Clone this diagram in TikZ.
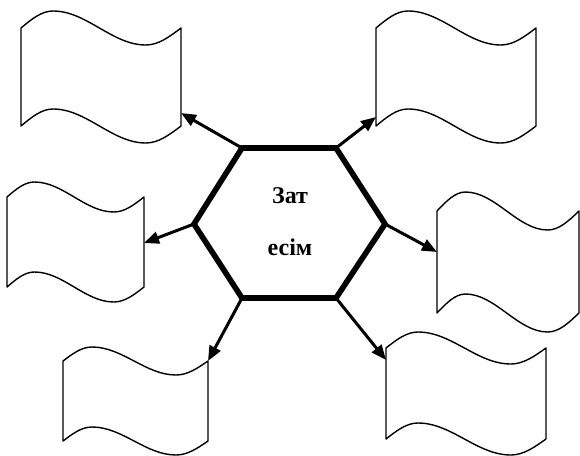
\documentclass[tikz,border=0pt]{standalone}
\usepackage{fontspec}
\setmainfont{Liberation Serif}
\usepackage{tikz}
\usetikzlibrary{positioning,calc,arrows.meta}

\tikzset{
  flagbox/.style={rectangle, inner sep=0pt, outer sep=0pt},
  flagline/.style={line width=1.4pt, line join=round},
  hexline/.style={line width=5.6pt, line join=miter},
  link/.style={-{Triangle[length=15pt,width=12pt]}, line width=3pt},
}

\newcommand{\wavyflag}[6]{%
  \node[flagbox, minimum width=#4pt, minimum height=#5pt, anchor=north west] (#1) at (#2,#3) {};
  \draw[flagline] (#1.north west) sin ++(0.2*#4,-#6) cos ++(0.29*#4,#6) sin ++(0.29*#4,#6) cos ++(0.22*#4,-#6)
    -- (#1.south east) sin ++(-0.22*#4,#6) cos ++(-0.29*#4,-#6) sin ++(-0.29*#4,-#6) cos ++(-0.2*#4,#6) -- cycle;
}

\begin{document}
\begin{tikzpicture}[x=1pt, y=-1pt]
  \useasboundingbox (0,0) rectangle (580,455);

  \wavyflag{f1}{21}{28}{160}{98}{17}
  \wavyflag{f2}{376}{28}{160}{98}{17}
  \wavyflag{f3}{7}{197}{137}{90}{15}
  \wavyflag{f4}{437}{211}{142}{102}{19}
  \wavyflag{f5}{63}{361}{145}{80}{14}
  \wavyflag{f6}{386}{348}{160}{91}{16}

  \coordinate (h1) at (242,148);
  \coordinate (h2) at (336,148);
  \coordinate (h3) at (385,224);
  \coordinate (h4) at (336,298);
  \coordinate (h5) at (242,298);
  \coordinate (h6) at (194,224);
  \draw[hexline] (h1) -- (h2) -- (h3) -- (h4) -- (h5) -- (h6) -- cycle;
  \node[font=\bfseries\fontsize{24}{52}\selectfont, align=center] (noun) at (290,222) {Зат\\есім};

  \draw[link] (h1) -- ($(f1.south east)+(0,-13)$);
  \draw[link] (h2) -- ($(f2.south west)+(0,-9)$);
  \draw[link] (h6) -- ($(f3.north east)+(0,46)$);
  \draw[link] (h3) -- ($(f4.north west)+(0,41)$);
  \draw[link] (h5) -- (f5.north east);
  \draw[link] (h4) -- ($(f6.north west)+(0,12)$);
\end{tikzpicture}
\end{document}
